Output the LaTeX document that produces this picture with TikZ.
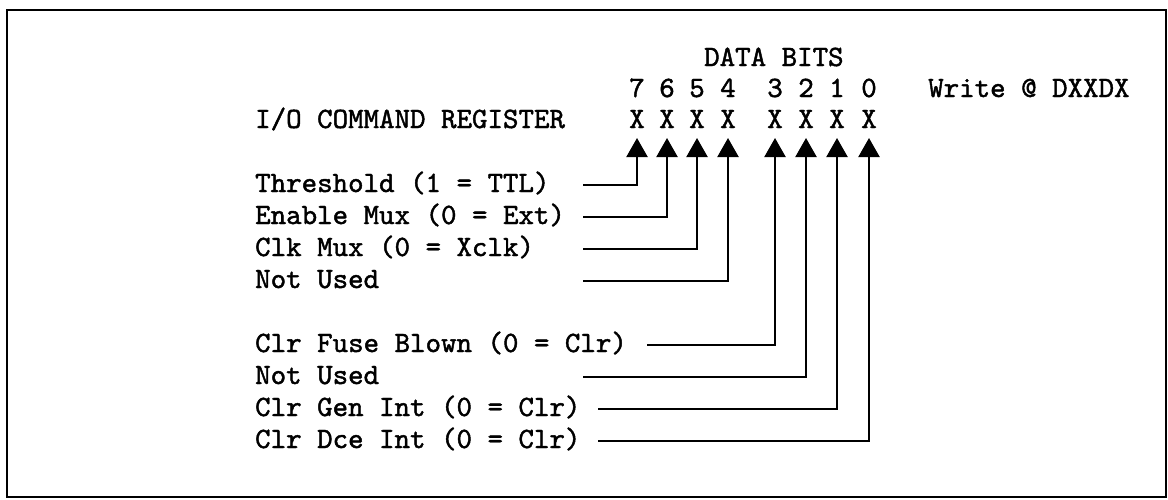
\documentclass[tikz,border=0pt]{standalone}
\usepackage{fontspec}
\newfontfamily\typefont{lmmono10-regular.otf}[FakeBold=1.5]
\usetikzlibrary{arrows.meta, positioning, calc}

\begin{document}
\begin{tikzpicture}[
  x=1pt, y=-1pt,
  txt/.style={font=\typefont\fontsize{29.5}{32}\selectfont, inner sep=0pt, anchor=base},
  lbl/.style={txt, anchor=base west},
  arr/.style={line width=2.2pt, -{Triangle[width=21pt, length=19pt]}}
]
  \useasboundingbox (0,0) rectangle (1168,499);
  % Frame
  \draw[line width=2.5pt] (7,10) rectangle (1166,497);

  % Header
  \node[lbl] (hdr) at (704,66) {DATA BITS};
  \node[lbl] (wr) at (928,97) {Write @ DXXDX};
  \node[lbl] (reg) at (255,128) {I/O COMMAND REGISTER};

  % Bit numbers and register bits
  \foreach \b/\x in {7/637, 6/667, 5/697, 4/728, 3/775, 2/806, 1/837, 0/869} {
    \node[txt] (d\b) at (\x,97) {\b};
    \node[txt] (b\b) at (\x,128) {X};
  }

  % Labels
  \node[lbl] (l7) at (255,192) {Threshold (1 = TTL)};
  \node[lbl] (l6) at (255,224) {Enable Mux (0 = Ext)};
  \node[lbl] (l5) at (255,256) {Clk Mux (0 = Xclk)};
  \node[lbl] (l4) at (255,288) {Not Used};
  \node[lbl] (l3) at (255,352) {Clr Fuse Blown (0 = Clr)};
  \node[lbl] (l2) at (255,384) {Not Used};
  \node[lbl] (l1) at (255,416) {Clr Gen Int (0 = Clr)};
  \node[lbl] (l0) at (255,448) {Clr Dce Int (0 = Clr)};

  % Line starts
  \coordinate (s7) at (583,185);
  \coordinate (s6) at (583,217);
  \coordinate (s5) at (583,249);
  \coordinate (s4) at (583,281);
  \coordinate (s3) at (647,345);
  \coordinate (s2) at (583,377);
  \coordinate (s1) at (598,409);
  \coordinate (s0) at (598,441);

  % Connectors
  \foreach \b in {7,...,0} {
    \draw[arr] (s\b) -| ([yshift=-10pt]b\b.base);
  }
\end{tikzpicture}
\end{document}
